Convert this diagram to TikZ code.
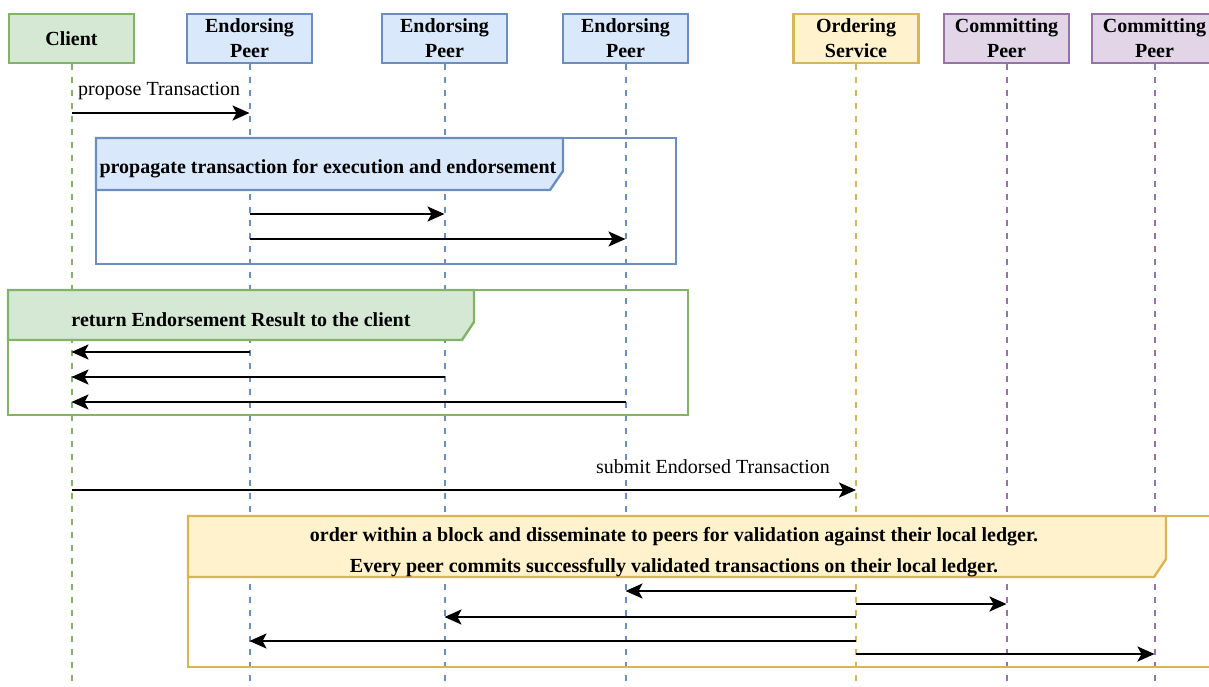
\documentclass[tikz,border=0pt]{standalone}
\usepackage{fontspec}
\setmainfont{Liberation Serif}
\usetikzlibrary{arrows.meta}
\definecolor{gfill}{HTML}{D5E8D4}\definecolor{gline}{HTML}{82B366}
\definecolor{bfill}{HTML}{DAE8FC}\definecolor{bline}{HTML}{6C8EBF}
\definecolor{yfill}{HTML}{FFF2CC}\definecolor{yline}{HTML}{D6B656}
\definecolor{pfill}{HTML}{E1D5E7}\definecolor{pline}{HTML}{9673A6}
\begin{document}
\begin{tikzpicture}[x=1pt,y=-1pt,
  actor/.style={draw, line width=2.4pt, minimum width=125pt, minimum height=49pt,
    inner sep=0pt, align=center, font=\fontsize{20}{25}\selectfont\bfseries},
  life/.style={line width=2pt, dash pattern=on 6pt off 7pt},
  frame/.style={line width=2.4pt},
  tab/.style={line width=2.4pt},
  grouptext/.style={inner sep=0pt, align=center, font=\fontsize{20}{31}\selectfont\bfseries},
  msgtext/.style={inner sep=0pt, font=\fontsize{20}{23}\selectfont},
  msg/.style={line width=2.5pt, -{Stealth[length=17pt,width=15pt,inset=4pt]}}]
\clip (0,0) rectangle (1209,686);
\fill[white] (0,0) rectangle (1209,686);

% participants
\node[actor, fill=gfill, draw=gline] (cl)  at (71.5,38.5)   {Client};
\node[actor, fill=bfill, draw=bline] (ep1) at (249.5,38.5)  {Endorsing\\Peer};
\node[actor, fill=bfill, draw=bline] (ep2) at (444.5,38.5)  {Endorsing\\Peer};
\node[actor, fill=bfill, draw=bline] (ep3) at (625.5,38.5)  {Endorsing\\Peer};
\node[actor, fill=yfill, draw=yline] (os)  at (856,38.5)    {Ordering\\Service};
\node[actor, fill=pfill, draw=pline] (cp1) at (1006.5,38.5) {Committing\\Peer};
\node[actor, fill=pfill, draw=pline] (cp2) at (1154.5,38.5) {Committing\\Peer};

% lifelines
\foreach \n/\c in {cl/gline, ep1/bline, ep2/bline, ep3/bline, os/yline, cp1/pline, cp2/pline} {
  \coordinate (\n-end) at (\n.center |- 0,690);
  \draw[life, \c] (\n.south) -- (\n-end);
}

% group: propagate
\draw[frame, bline] (96,138) rectangle (676,264);
\draw[tab, bline, fill=bfill] (96,138) -- (563,138) -- (563,171) -- (550,190) -- (96,190) -- cycle;
\node[grouptext] (g1) at (328,168.5) {propagate transaction for execution and endorsement};

% group: return
\draw[frame, gline] (8,290) rectangle (688,415);
\draw[tab, gline, fill=gfill] (8,290) -- (474,290) -- (474,322) -- (462,340) -- (8,340) -- cycle;
\node[grouptext] (g2) at (241,319.5) {return Endorsement Result to the client};

% group: order and disseminate
\draw[frame, yline] (188,516) rectangle (1230,667);
\draw[tab, yline, fill=yfill] (188,516) -- (1166,516) -- (1166,559) -- (1154,577) -- (188,577) -- cycle;
\node[grouptext] (g3) at (674,552) {order within a block and disseminate to peers for validation against their local ledger.\\
  Every peer commits successfully validated transactions on their local ledger.};

% messages
\node[msgtext, anchor=west] (m1) at (78,91) {propose Transaction};
\draw[msg] (cl |- 0,113) -- (ep1 |- 0,113);

\draw[msg] (ep1 |- 0,214) -- (ep2 |- 0,214);
\draw[msg] (ep1 |- 0,239) -- (ep3 |- 0,239);

\draw[msg] (ep1 |- 0,352) -- (cl |- 0,352);
\draw[msg] (ep2 |- 0,377) -- (cl |- 0,377);
\draw[msg] (ep3 |- 0,402) -- (cl |- 0,402);

\node[msgtext, anchor=east] (m2) at (830,467) {submit Endorsed Transaction};
\draw[msg] (cl |- 0,490) -- (os |- 0,490);

\draw[msg] (os |- 0,591) -- (ep3 |- 0,591);
\draw[msg] (os |- 0,604) -- (cp1 |- 0,604);
\draw[msg] (os |- 0,617) -- (ep2 |- 0,617);
\draw[msg] (os |- 0,641) -- (ep1 |- 0,641);
\draw[msg] (os |- 0,654) -- (cp2 |- 0,654);
\end{tikzpicture}
\end{document}
